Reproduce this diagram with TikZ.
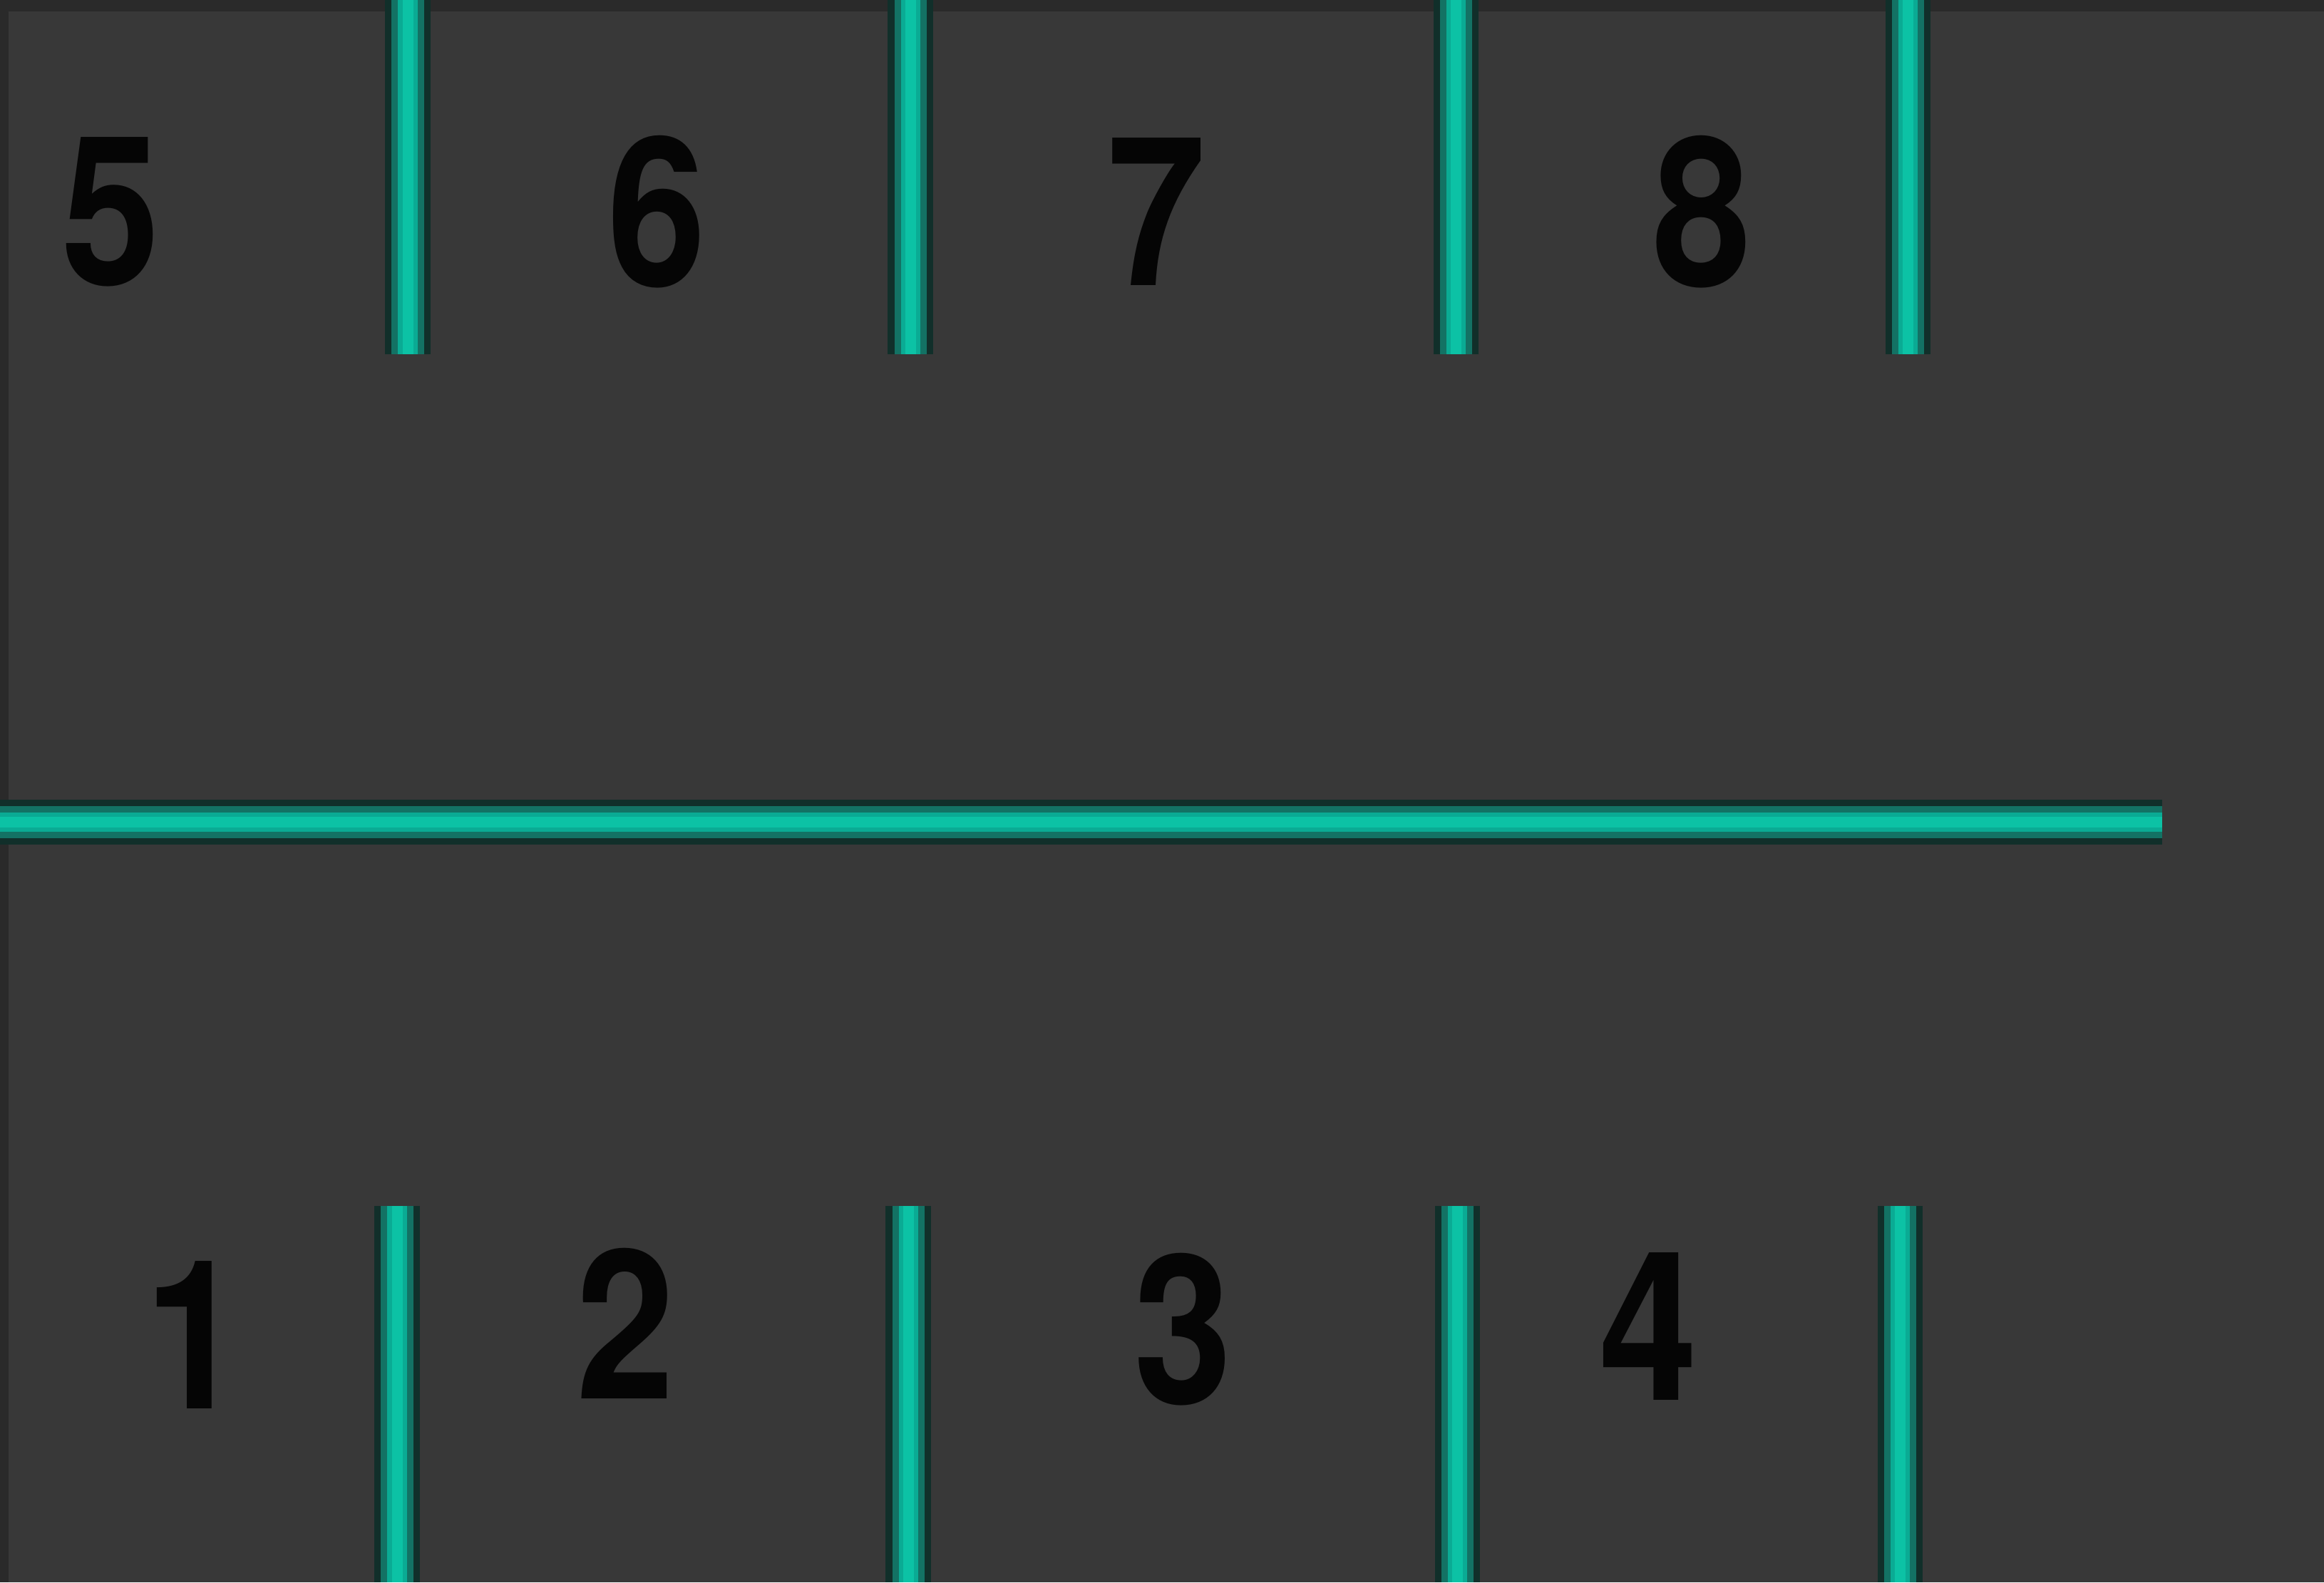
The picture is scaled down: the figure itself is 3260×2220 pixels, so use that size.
\documentclass[tikz,border=0pt]{standalone}
\usepackage{fontspec}
\setmainfont{TeX Gyre Heros}
\definecolor{lotbg}{HTML}{383838}
\definecolor{lotedge}{HTML}{2A2A2A}
\definecolor{curbdark}{HTML}{112F2A}
\definecolor{curbmid}{HTML}{137264}
\definecolor{curbteal}{HTML}{0AAB94}
\definecolor{curblight}{HTML}{0CC2A5}
\definecolor{bayink}{HTML}{050505}
\tikzset{
	curb/.style={
		draw=curbmid, line width=4.5mm,
		preaction={draw=curbdark, line width=6.3mm},
		postaction={draw=curbteal, line width=2.7mm},
		postaction={draw=curblight, line width=1.5mm}
	},
	baynum/.style={font=\fontsize{83}{83}\selectfont\bfseries, text=bayink, inner sep=0pt, xscale=0.85}
}

\begin{document}
\begin{tikzpicture}[x=0.01cm, y=-0.01cm]
	\useasboundingbox (0, 0) rectangle (3260, 2220);
	\fill[lotbg] (0, 0) rectangle (3260, 2220);
	\fill[lotedge] (0, 0) rectangle (3260, 16);
	\fill[lotedge] (0, 0) rectangle (12, 2220);
	% bay dividers
	\foreach \x [count=\i] in {572, 1277, 2042, 2676}{
		\coordinate (top\i) at (\x, 0);
		\coordinate (topend\i) at (\x, 497);
		\draw[curb] (top\i) -- (topend\i);
	}
	\foreach \x [count=\i] in {557, 1274, 2044, 2665}{
		\coordinate (bot\i) at (\x, 1692);
		\coordinate (botend\i) at (\x, 2220);
		\draw[curb] (bot\i) -- (botend\i);
	}
	\coordinate (aisle start) at (0, 1153);
	\coordinate (aisle end) at (3033, 1153);
	\draw[curb] (aisle start) -- (aisle end);
	% bay numbers
	\node[baynum] (bay5) at (155, 297) {5};
	\node[baynum] (bay6) at (921, 297) {6};
	\node[baynum] (bay7) at (1622, 297) {7};
	\node[baynum] (bay8) at (2387, 297) {8};
	\node[baynum] (bay1) at (272, 1873) {1};
	\node[baynum] (bay2) at (877, 1857) {2};
	\node[baynum] (bay3) at (1659, 1865) {3};
	\node[baynum] (bay4) at (2312, 1861) {4};
\end{tikzpicture}
\end{document}
